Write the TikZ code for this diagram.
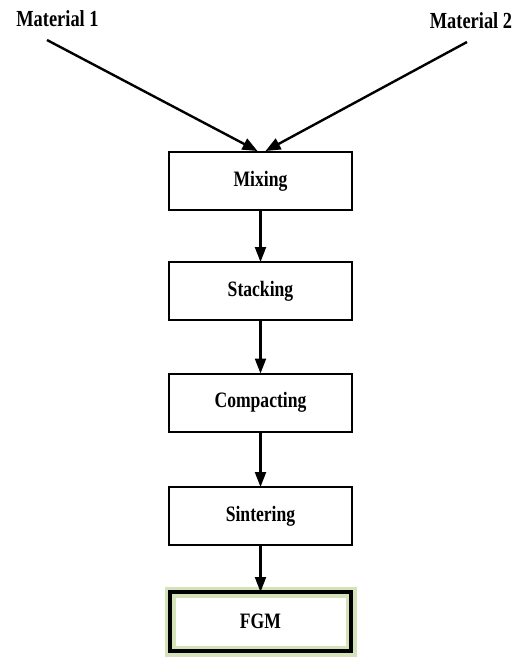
\documentclass[tikz,border=0pt]{standalone}
\usepackage{fontspec}
\setmainfont{Liberation Serif}[FakeStretch=0.8]
\usetikzlibrary{arrows.meta,calc}
\begin{document}
\begin{tikzpicture}[x=1pt,y=-1pt,
  box/.style={draw=black,line width=2pt,minimum width=183pt,minimum height=58pt,inner sep=0pt,outer sep=0pt,font=\fontsize{22}{24}\selectfont\bfseries},
  lbl/.style={inner sep=0pt,font=\fontsize{23}{25}\selectfont\bfseries},
  arr/.style={line width=2.4pt,-{Triangle[length=15pt,width=12pt]}},
  varr/.style={line width=2.2pt,-{Triangle[length=15pt,width=11pt]}}]
\useasboundingbox[fill=white] (0,0) rectangle (523,657);
\node[lbl] (mat1) at (57.5,19) {Material 1};
\node[lbl] (mat2) at (471,21) {Material 2};
\node[box] (mix) at (260.5,181) {Mixing};
\node[box] (stack) at (260.5,291) {Stacking};
\node[box] (comp) at (260.5,402.5) {Compacting};
\node[box] (sint) at (260.5,516) {Sintering};
\draw[line width=11pt,draw={rgb,255:red,205;green,221;blue,175},opacity=0.85] (170,592) rectangle (351,651);
\node[box,line width=4pt,minimum width=181pt,minimum height=59pt] (fgm) at (260.5,621.5) {FGM};
\coordinate (s1) at (47,40);
\coordinate (s2) at (467,42);
\coordinate (t1) at ($(mix.north)+(-3,-1)$);
\coordinate (t2) at ($(mix.north)+(5,-1)$);
\draw[arr] (s1) -- (t1);
\draw[arr] (s2) -- (t2);
\draw[varr] (mix.south) -- (stack.north);
\draw[varr] (stack.south) -- (comp.north);
\draw[varr] (comp.south) -- (sint.north);
\draw[varr] (sint.south) -- (fgm.north);
\end{tikzpicture}
\end{document}
